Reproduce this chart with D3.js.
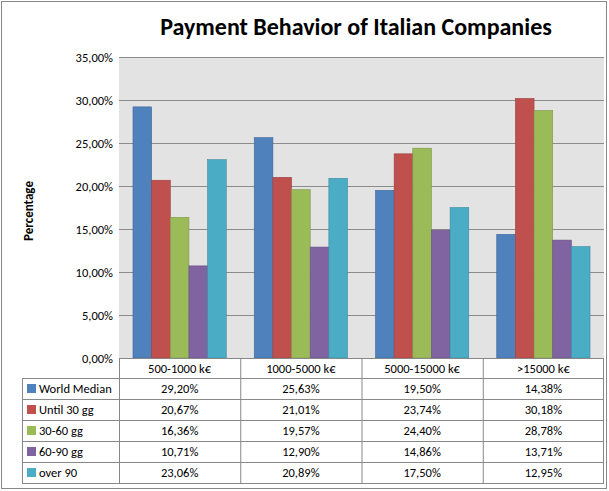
<!DOCTYPE html>
<html><head><meta charset="utf-8">
<script src="https://d3js.org/d3.v7.min.js"></script>
<style>body{margin:0;background:#fff}text{font-family:Calibri,Carlito,"Liberation Sans",sans-serif}</style>
</head><body><svg id="c" width="609" height="491"></svg>
<script>
const categories=["500-1000 k€","1000-5000 k€","5000-15000 k€",">15000 k€"];
const seriesNames=["World Median","Until 30 gg","30-60 gg","60-90 gg","over 90"];
const worldMedian=[29.20,25.63,19.50,14.38];
const until30=[20.67,21.01,23.74,30.18];
const d30_60=[16.36,19.57,24.40,28.78];
const d60_90=[10.71,12.90,14.86,13.71];
const over90=[23.06,20.89,17.50,12.95];
const series=[worldMedian,until30,d30_60,d60_90,over90];
const colors=["#4F81BD","#C0504D","#9BBB59","#8064A2","#4BACC6"];
const yTicks=[0,5,10,15,20,25,30,35];
const fmt=v=>v.toFixed(2).replace(".",",")+"%";

const svg=d3.select("#c");
svg.append("rect").attr("x",1.5).attr("y",1.5).attr("width",605).attr("height",487).attr("fill","#fff").attr("stroke","#888");
svg.append("text").attr("x",356).attr("y",35).attr("text-anchor","middle").attr("font-size",24).attr("font-weight","bold").text("Payment Behavior of Italian Companies");
svg.append("text").attr("transform","translate(33,211) rotate(-90)").attr("text-anchor","middle").attr("font-size",13).attr("font-weight","bold").text("Percentage");

const L=119,R=604,T=57,B=358;
const x=d3.scaleBand().domain(categories).range([L,R]);
const y=d3.scaleLinear().domain([0,35]).range([B,T]);
svg.append("rect").attr("x",L).attr("y",T).attr("width",R-L).attr("height",B-T).attr("fill","#e3e3e3");
svg.append("g").selectAll("line").data(yTicks).join("line")
 .attr("x1",L).attr("x2",R).attr("y1",d=>y(d)+.5).attr("y2",d=>y(d)+.5).attr("stroke","#8c8c8c");
svg.append("g").selectAll("text").data(yTicks).join("text")
 .attr("x",113).attr("y",d=>y(d)+4.5).attr("text-anchor","end").attr("font-size",12.5).text(d=>fmt(d));
const xi=d3.scaleBand().domain(d3.range(5)).range([0,x.bandwidth()]).paddingOuter(0.75).paddingInner(0);
series.forEach((s,i)=>{
 svg.append("g").selectAll("rect").data(s).join("rect")
  .attr("x",(d,j)=>x(categories[j])+xi(i)).attr("width",xi.bandwidth())
  .attr("y",d=>y(d)).attr("height",d=>B-y(d))
  .attr("fill",colors[i]).attr("stroke",d3.color(colors[i]).darker(0.6)).attr("stroke-width",0.6);
});
const TL=22,rowH=21,hdrB=378;
const g=svg.append("g").attr("stroke","#888").attr("fill","none");
g.append("line").attr("x1",L).attr("x2",R).attr("y1",B+.5).attr("y2",B+.5);
categories.forEach((c,j)=>{g.append("line").attr("x1",x(c)+.5).attr("x2",x(c)+.5).attr("y1",B).attr("y2",hdrB+5*rowH);});
g.append("line").attr("x1",R-.5).attr("x2",R-.5).attr("y1",B).attr("y2",hdrB+5*rowH);
g.append("line").attr("x1",TL+.5).attr("x2",TL+.5).attr("y1",hdrB).attr("y2",hdrB+5*rowH);
for(let r=0;r<=5;r++)g.append("line").attr("x1",TL).attr("x2",R).attr("y1",hdrB+r*rowH+.5).attr("y2",hdrB+r*rowH+.5);
svg.append("g").selectAll("text").data(categories).join("text")
 .attr("x",c=>x(c)+x.bandwidth()/2).attr("y",B+15).attr("text-anchor","middle").attr("font-size",12.5).text(c=>c);
seriesNames.forEach((n,i)=>{
 const cy=hdrB+i*rowH;
 svg.append("rect").attr("x",27).attr("y",cy+6).attr("width",9).attr("height",9).attr("fill",colors[i]);
 svg.append("text").attr("x",39).attr("y",cy+15).attr("font-size",12.5).text(n);
 svg.append("g").selectAll("text").data(series[i]).join("text")
  .attr("x",(d,j)=>x(categories[j])+x.bandwidth()/2).attr("y",cy+15).attr("text-anchor","middle").attr("font-size",12.5).text(d=>fmt(d));
});
</script></body></html>
